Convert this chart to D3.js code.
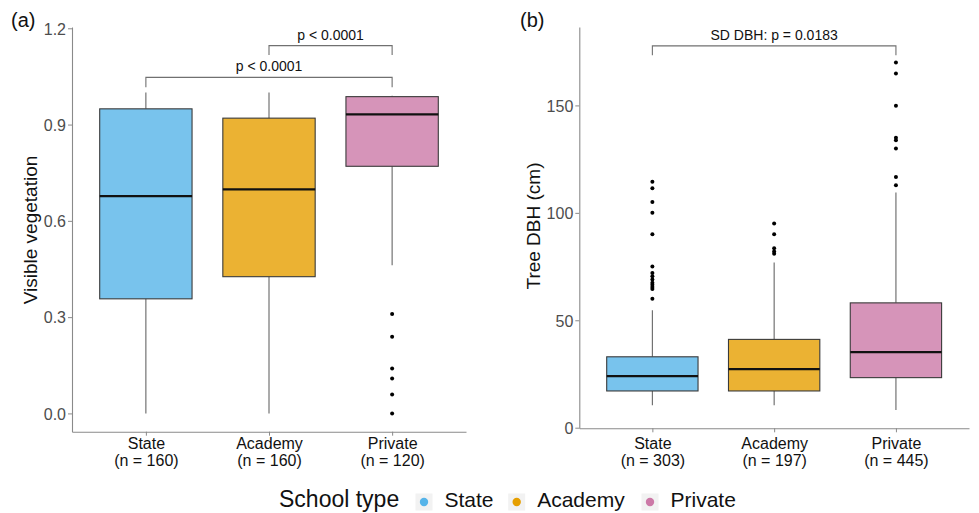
<!DOCTYPE html>
<html>
<head>
<meta charset="utf-8">
<script src="https://cdn.jsdelivr.net/npm/d3@7/dist/d3.min.js"></script>
<style>
  body { margin: 0; background: #fff; }
  svg { display: block; font-family: "Liberation Sans", Arial, Helvetica, sans-serif; }
</style>
</head>
<body>
<script>
// data
var schoolTypes = ['State', 'Academy', 'Private'];
var schoolColors = ['#56B4E9', '#E69F00', '#CC79A7'];

var vegN = [160, 160, 120];
var vegLow = [0, 0, 0.462];
var vegQ1 = [0.357, 0.426, 0.77];
var vegMed = [0.677, 0.698, 0.932];
var vegQ3 = [0.949, 0.92, 0.987];
var vegHigh = [1.0, 1.0, 0.99];
var vegOutliers = [[], [], [0.31, 0.239, 0.14, 0.109, 0.059, 0.0]];
var vegTicks = [0, 0.3, 0.6, 0.9, 1.2];
var vegBrackets = [
  {from: 'State', to: 'Private', y: 1.047, tip: 1.016, label: 'p < 0.0001'},
  {from: 'Academy', to: 'Private', y: 1.146, tip: 1.117, label: 'p < 0.0001'}
];

var dbhN = [303, 197, 445];
var dbhLow = [10.4, 10.4, 8.2];
var dbhQ1 = [17.1, 17.1, 23.3];
var dbhMed = [24.0, 27.3, 35.2];
var dbhQ3 = [33.0, 41.1, 58.1];
var dbhHigh = [54.7, 76.9, 109.5];
var dbhOutliers = [
  [114.5, 111.5, 105, 100, 90, 75, 72, 70.5, 69, 67.5, 66.5, 65.5, 64.5, 60],
  [95, 90, 83.5, 82, 81],
  [170, 164.8, 149.8, 135, 133.8, 130, 116.7, 112.9]
];
var dbhTicks = [0, 50, 100, 150];
var dbhBrackets = [
  {from: 'State', to: 'Private', y: 177.7, tip: 173.3, label: 'SD DBH: p = 0.0183'}
];

var W = 979, H = 513;
var svg = d3.select('body').append('svg')
            .attr('width', W)
            .attr('height', H);

function boxFill(c) {
  var rgb = d3.rgb(c);
  return d3.rgb(rgb.r * 0.8 + 51, rgb.g * 0.8 + 51, rgb.b * 0.8 + 51).formatHex();
}

function drawPanel(opt) {
  var g = svg.append('g');
  var x = d3.scalePoint().domain(schoolTypes)
            .range([opt.left, opt.right]).padding(0.6);
  var y = d3.scaleLinear().domain(opt.yDomain).range([opt.bottom, opt.top]);
  var bw = x.step() * 0.75;

  var yAxis = g.append('g')
     .attr('transform', `translate(${opt.left},0)`)
     .call(d3.axisLeft(y).tickValues(opt.ticks).tickSize(4).tickPadding(2)
             .tickSizeOuter(0).tickFormat(opt.fmt));
  yAxis.select('.domain').attr('stroke', '#8a8a8a').attr('stroke-width', 1.1);
  yAxis.selectAll('.tick line').attr('stroke', '#8a8a8a');
  yAxis.selectAll('.tick text').attr('fill', '#4D4D4D')
       .style('font-size', '16px').attr('dy', '0.36em');

  var xAxis = g.append('g')
     .attr('transform', `translate(0,${opt.bottom})`)
     .call(d3.axisBottom(x).tickSize(4).tickSizeOuter(0));
  xAxis.select('.domain').attr('stroke', '#8a8a8a').attr('stroke-width', 1.1);
  xAxis.selectAll('.tick line').attr('stroke', '#8a8a8a');
  xAxis.selectAll('.tick text').remove();
  xAxis.selectAll('.tick').append('text')
       .attr('fill', '#111')
       .style('font-size', '16px')
       .attr('text-anchor', 'middle')
       .each(function(d, i) {
         var t = d3.select(this);
         t.append('tspan').attr('x', 0).attr('y', 449 - opt.bottom).text(d);
         t.append('tspan').attr('x', 0).attr('y', 466.5 - opt.bottom).text(`(n = ${opt.n[i]})`);
       });

  // whiskers
  schoolTypes.forEach(function(s, i) {
    var cx = x(s);
    g.append('line')
     .attr('x1', cx).attr('x2', cx)
     .attr('y1', y(opt.high[i])).attr('y2', y(opt.q3[i]))
     .attr('stroke', '#666').attr('stroke-width', 1.1);
    g.append('line')
     .attr('x1', cx).attr('x2', cx)
     .attr('y1', y(opt.q1[i])).attr('y2', y(opt.low[i]))
     .attr('stroke', '#666').attr('stroke-width', 1.1);
  });

  g.selectAll('rect.box').data(schoolTypes)
   .enter().append('rect')
     .attr('class', 'box')
     .attr('x', d => x(d) - bw / 2)
     .attr('width', bw)
     .attr('y', (d, i) => y(opt.q3[i]))
     .attr('height', (d, i) => y(opt.q1[i]) - y(opt.q3[i]))
     .attr('fill', (d, i) => boxFill(schoolColors[i]))
     .attr('stroke', '#3a3a3a')
     .attr('stroke-width', 1.1);

  g.selectAll('line.median').data(schoolTypes)
   .enter().append('line')
     .attr('class', 'median')
     .attr('x1', d => x(d) - bw / 2)
     .attr('x2', d => x(d) + bw / 2)
     .attr('y1', (d, i) => y(opt.med[i]))
     .attr('y2', (d, i) => y(opt.med[i]))
     .attr('stroke', '#111')
     .attr('stroke-width', 2.2);

  schoolTypes.forEach(function(s, i) {
    g.selectAll(null).data(opt.outliers[i])
     .enter().append('circle')
       .attr('cx', x(s))
       .attr('cy', d => y(d))
       .attr('r', 2)
       .attr('fill', '#000');
  });

  opt.brackets.forEach(function(b) {
    var x1 = x(b.from), x2 = x(b.to);
    g.append('path')
     .attr('d', `M${x1},${y(b.tip)}V${y(b.y)}H${x2}V${y(b.tip)}`)
     .attr('fill', 'none')
     .attr('stroke', '#707070')
     .attr('stroke-width', 1.1);
    g.append('text')
     .attr('x', (x1 + x2) / 2)
     .attr('y', y(b.y) - 6)
     .attr('text-anchor', 'middle')
     .style('font-size', '14px')
     .attr('fill', '#111')
     .text(b.label);
  });

  g.append('text')
   .attr('transform', `translate(${opt.titleX},${opt.titleY}) rotate(-90)`)
   .attr('text-anchor', 'middle')
   .style('font-size', '19px')
   .attr('fill', '#111')
   .text(opt.title);

  g.append('text')
   .attr('x', opt.tagX)
   .attr('y', 27)
   .style('font-size', '20px')
   .attr('fill', '#111')
   .text(opt.tag);
}

drawPanel({
  left: 72, right: 466, top: 27, bottom: 431.7,
  yDomain: [-0.057, 1.204], ticks: vegTicks, fmt: d3.format('.1f'),
  n: vegN, low: vegLow, q1: vegQ1, med: vegMed, q3: vegQ3, high: vegHigh,
  outliers: vegOutliers, brackets: vegBrackets,
  title: 'Visible vegetation', titleX: 37, titleY: 230,
  tag: '(a)', tagX: 11
});

drawPanel({
  left: 579.3, right: 969, top: 27, bottom: 428.3,
  yDomain: [-0.28, 186.5], ticks: dbhTicks, fmt: d3.format('d'),
  n: dbhN, low: dbhLow, q1: dbhQ1, med: dbhMed, q3: dbhQ3, high: dbhHigh,
  outliers: dbhOutliers, brackets: dbhBrackets,
  title: 'Tree DBH (cm)', titleX: 540, titleY: 226,
  tag: '(b)', tagX: 520
});

// legend
var legend = svg.append('g');
legend.append('text')
      .attr('x', 279).attr('y', 507)
      .style('font-size', '23px')
      .attr('fill', '#111')
      .text('School type');
var keyX = [424, 516.7, 650];
schoolTypes.forEach(function(s, i) {
  legend.append('rect')
        .attr('x', keyX[i] - 8.5).attr('y', 493.5)
        .attr('width', 17).attr('height', 17)
        .attr('fill', '#F2F2F2');
  legend.append('circle')
        .attr('cx', keyX[i]).attr('cy', 502)
        .attr('r', 4.2)
        .attr('fill', schoolColors[i]);
  legend.append('text')
        .attr('x', keyX[i] + 20.5).attr('y', 507)
        .style('font-size', '21px')
        .attr('fill', '#111')
        .text(s);
});
</script>
</body>
</html>
